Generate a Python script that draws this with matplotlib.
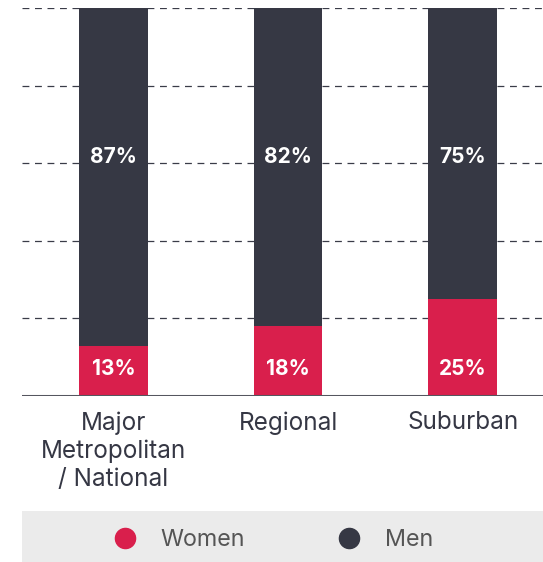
import matplotlib.pyplot as plt
from matplotlib.lines import Line2D

categories = ["Major\nMetropolitan\n/ National", "Regional", "Suburban"]
women = [13, 18, 25]
men = [87, 82, 75]

WOMEN_C = "#d91f4c"
MEN_C = "#363844"
TEXT_C = "#353744"
FONT = "Inter"

plt.rcParams["font.family"] = [FONT, "DejaVu Sans"]

fig = plt.figure(figsize=(5.43, 5.62), dpi=100)
ax = fig.add_axes([22 / 543, 166 / 562, 521 / 543, 388 / 562])

x = list(range(len(categories)))
ax.bar(x, women, width=0.394, color=WOMEN_C, zorder=3)
ax.bar(x, men, width=0.394, bottom=women, color=MEN_C, zorder=3)

for xi, w, m in zip(x, women, men):
    ax.text(xi, 6.9, f"{w}%", ha="center", va="center", color="white",
            fontsize=15, fontweight="bold", zorder=4)
    ax.text(xi, 61.7, f"{m}%", ha="center", va="center", color="white",
            fontsize=15, fontweight="bold", zorder=4)

ax.set_xlim(-0.523, 2.46)
ax.set_ylim(0, 100)
for y in [20, 40, 60, 80, 100]:
    ax.axhline(y, color="#3a3c48", lw=0.9, ls=(0, (5.5, 4.5)), zorder=1)
ax.axhline(0, color="#55565f", lw=2.2, zorder=4)

for s in ax.spines.values():
    s.set_visible(False)
ax.set_yticks([])
ax.set_xticks(x)
ax.set_xticklabels(categories, fontsize=17.5, color=TEXT_C, linespacing=1.28)
ax.tick_params(axis="x", length=0, pad=11)

# legend strip
leg_ax = fig.add_axes([22 / 543, 0, 521 / 543, 51 / 562])
leg_ax.set_facecolor("#ebebeb")
leg_ax.set_xticks([])
leg_ax.set_yticks([])
for s in leg_ax.spines.values():
    s.set_visible(False)
handles = [
    Line2D([], [], marker="o", ls="", color=WOMEN_C, markersize=14.5, label="Women"),
    Line2D([], [], marker="o", ls="", color=MEN_C, markersize=14.5, label="Men"),
]
leg = leg_ax.legend(handles=handles, loc="center", ncol=2, frameon=False,
                    fontsize=16.8, handletextpad=0.55, columnspacing=3.45,
                    bbox_to_anchor=(0.471, 0.43))
for t in leg.get_texts():
    t.set_color("#555555")

fig.savefig("out.png", dpi=100)
